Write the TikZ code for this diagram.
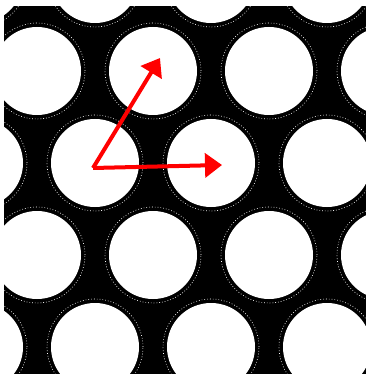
\documentclass[tikz,border=0pt]{standalone}
\usetikzlibrary{arrows.meta}

\begin{document}
\begin{tikzpicture}[
  x=1pt, y=-1pt,
  hole/.style={circle, inner sep=0pt, minimum size=96pt, draw=white, line width=0.6pt,
    dash pattern=on 0.8pt off 2pt,
    path picture={\fill[white] (path picture bounding box.center) circle (44pt);}},
  vec/.style={-{Triangle[length=17pt, width=24pt]}, line width=4pt, red}
]
  \useasboundingbox (0,0) rectangle (366,374);
  \fill[black] (4,6) rectangle (366,374);
  \begin{scope}
    \clip (4,6) rectangle (366,374);
    % row 1
    \node[hole] (h11) at (-21,-21) {};
    \node[hole] (h12) at (95,-21) {};
    \node[hole] (h13) at (211,-21) {};
    \node[hole] (h14) at (327,-21) {};
    % row 2
    \node[hole] (h21) at (37,71) {};
    \node[hole] (h22) at (153,71) {};
    \node[hole] (h23) at (269,71) {};
    \node[hole] (h24) at (385,71) {};
    % row 3
    \node[hole] (h31) at (-21,163) {};
    \node[hole] (h32) at (95,163) {};
    \node[hole] (h33) at (211,163) {};
    \node[hole] (h34) at (327,163) {};
    % row 4
    \node[hole] (h41) at (37,255) {};
    \node[hole] (h42) at (153,255) {};
    \node[hole] (h43) at (269,255) {};
    \node[hole] (h44) at (385,255) {};
    % row 5
    \node[hole] (h51) at (-21,347) {};
    \node[hole] (h52) at (95,347) {};
    \node[hole] (h53) at (211,347) {};
    \node[hole] (h54) at (327,347) {};
  \end{scope}
  % lattice vectors
  \coordinate (o) at (93,168);
  \coordinate (a1) at (222,165);
  \coordinate (a2) at (160,58);
  \draw[vec] (o) -- (a1);
  \draw[vec] (o) -- (a2);
\end{tikzpicture}
\end{document}
